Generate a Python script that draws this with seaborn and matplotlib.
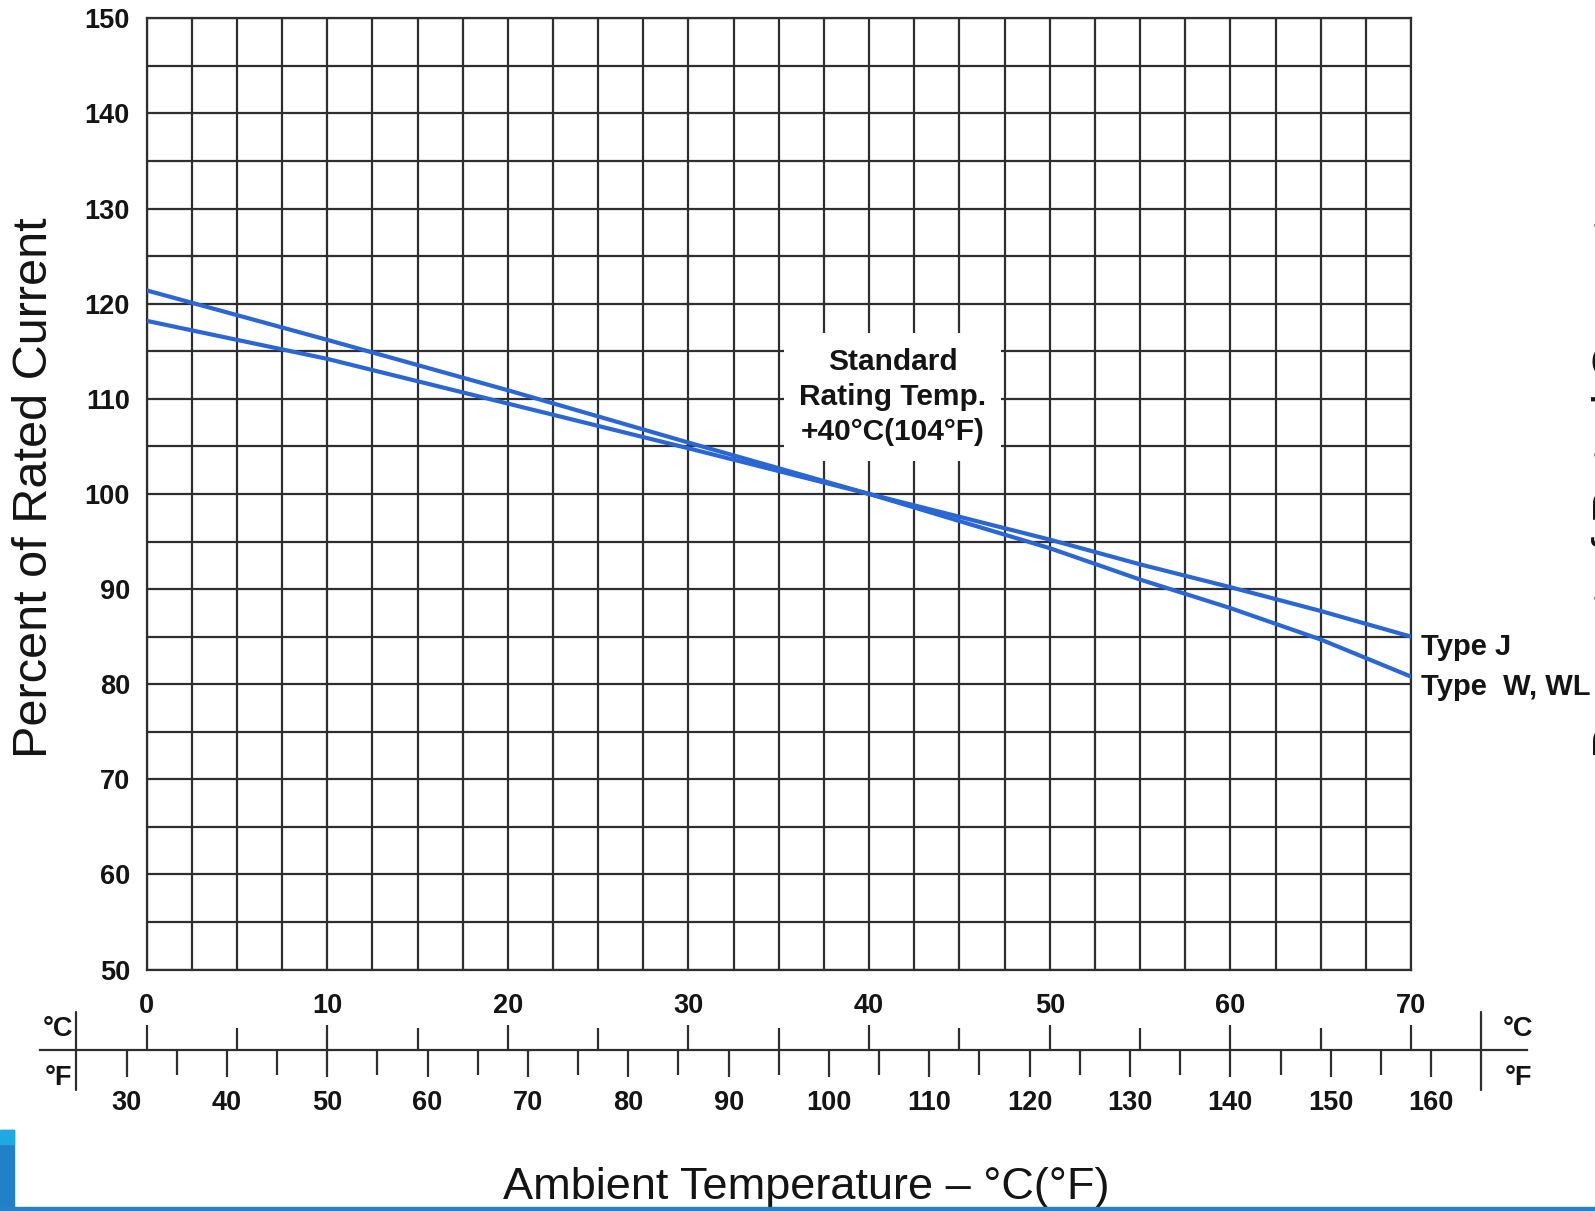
import matplotlib
matplotlib.use("Agg")
import matplotlib.pyplot as plt
import matplotlib.transforms as mtransforms
from matplotlib.patches import Rectangle
import numpy as np
import pandas as pd
import seaborn as sns

# ---------------- data ----------------
temp_c = [0, 10, 20, 30, 40, 50, 55, 60, 65, 70]
type_j = [118.2, 114.2, 109.5, 104.8, 100.0, 95.2, 92.6, 90.2, 87.7, 85.0]
type_w = [121.4, 116.2, 110.9, 105.4, 100.0, 94.3, 91.0, 88.0, 84.7, 80.8]
series_names = ["Type J", "Type  W, WL"]

y_ticks = list(range(50, 151, 10))
y_minor = list(range(55, 150, 10))
x_grid = list(np.arange(0, 70.1, 2.5))
c_ticks = list(range(0, 71, 10))
c_minor = list(range(5, 70, 10))
f_ticks = list(range(30, 161, 10))
f_minor = list(range(35, 160, 10))
f_bars = [25, 165]

annotation = "Standard\nRating Temp.\n+40°C(104°F)"
annotation_pos = (41.3, 110.2)
x_label = "Ambient Temperature – °C(°F)"
y_label = "Percent of Rated Current"

# ---------------- style ----------------
sns.set_theme(style="white")
plt.rcParams["font.family"] = ["Liberation Sans", "DejaVu Sans"]
plt.rcParams["font.weight"] = "bold"
ink = "#141414"
grid_c = "#2e2e2e"
line_c = "#2a66d4"
plt.rcParams["text.color"] = ink

W, H = 1595, 1211
fig = plt.figure(figsize=(W / 100, H / 100), dpi=100)
fig.patch.set_facecolor("white")


def fx(px):
    return px / W


def fy(py):
    return 1 - py / H


L, R, T, B = 146.6, 1411.0, 18.3, 969.6
ax = fig.add_axes([fx(L), fy(B), fx(R) - fx(L), fy(T) - fy(B)])

df = pd.DataFrame({
    "temp": temp_c * 2,
    "pct": type_j + type_w,
    "series": [series_names[0]] * len(temp_c) + [series_names[1]] * len(temp_c),
})
sns.lineplot(data=df, x="temp", y="pct", hue="series",
             palette={n: line_c for n in series_names},
             linewidth=3.0, legend=False, ax=ax, zorder=4)
ax.set_xlabel("")
ax.set_ylabel("")
ax.set_xlim(0, 70)
ax.set_ylim(50, 150)
ax.set_xticks(x_grid)
ax.set_xticklabels([])
ax.set_yticks(y_ticks)
ax.set_yticks(y_minor, minor=True)
ax.tick_params(axis="x", length=0)
ax.tick_params(axis="y", which="both", length=0, pad=12, labelsize=19.5,
               labelcolor=ink)
ax.set_axisbelow(True)
ax.grid(which="both", color=grid_c, linewidth=1.6)
for s in ax.spines.values():
    s.set_color(grid_c)
    s.set_linewidth(1.6)

# curve end labels
for name, vals in zip(series_names, [type_j, type_w]):
    ax.annotate(name, xy=(temp_c[-1], vals[-1]), xytext=(7.5, -7.5),
                textcoords="offset points", ha="left", va="center",
                fontsize=21, annotation_clip=False)

# standard rating annotation
ax.text(annotation_pos[0], annotation_pos[1], annotation, ha="center",
        va="center", multialignment="center", fontsize=21.5,
        linespacing=1.33, zorder=3,
        bbox=dict(facecolor="white", edgecolor="none",
                  boxstyle="square,pad=0.5"))

# ---------------- dual temperature scale ----------------
px_per_c = (R - L) / 70.0
x0, x1 = 40.0, 1527.0
cmin = (x0 - L) / px_per_c
cmax = (x1 - L) / px_per_c
axc = fig.add_axes([fx(x0), fy(1050), fx(x1) - fx(x0), 1e-5])
axc.set_xlim(cmin, cmax)
axc.set_ylim(0, 1)
axc.patch.set_alpha(0)
for s in ["left", "right", "bottom"]:
    axc.spines[s].set_visible(False)
axc.spines["top"].set_color(grid_c)
axc.spines["top"].set_linewidth(1.6)
axc.set_yticks([])
axc.xaxis.set_ticks_position("top")
axc.set_xticks(c_ticks)
axc.set_xticks(c_minor, minor=True)
axc.tick_params(axis="x", which="major", direction="out", length=18,
                width=1.6, color=grid_c, pad=4, labelsize=19.5,
                labelcolor=ink)
axc.tick_params(axis="x", which="minor", direction="out", length=16,
                width=1.6, color=grid_c)


def c2f(c):
    return np.asarray(c) * 9.0 / 5.0 + 32.0


def f2c(f):
    return (np.asarray(f) - 32.0) * 5.0 / 9.0


axf = axc.secondary_xaxis("bottom", functions=(c2f, f2c))
axf.spines["bottom"].set_visible(False)
axf.set_xticks(f_ticks)
axf.set_xticks(f_minor, minor=True)
axf.tick_params(axis="x", which="major", direction="out", length=19.5,
                width=1.6, color=grid_c, pad=9, labelsize=19.5,
                labelcolor=ink)
axf.tick_params(axis="x", which="minor", direction="out", length=18,
                width=1.6, color=grid_c)

trans = mtransforms.blended_transform_factory(axc.transData, fig.transFigure)
for fb in f_bars:
    axc.plot([f2c(fb)] * 2, [fy(1012), fy(1090)], transform=trans,
             color=grid_c, lw=1.6, clip_on=False)

for xp, lab_c, lab_f in [(58, "°C", "°F"), (1518, "°C", "°F")]:
    fig.text(fx(xp), fy(1029), lab_c, ha="center", va="center", fontsize=19.5)
    fig.text(fx(xp), fy(1078), lab_f, ha="center", va="center", fontsize=19.5)

# ---------------- axis titles ----------------
fig.text(fx(806), fy(1199), x_label, ha="center", va="baseline",
         fontsize=32.5, fontweight="normal")
fig.text(fx(47), fy(488), y_label, rotation=90, rotation_mode="anchor",
         ha="center", va="baseline", fontsize=35, fontweight="normal")
# neighbouring chart's title, almost entirely outside the picture
fig.text(fx(1627), fy(488), y_label, rotation=90, rotation_mode="anchor",
         ha="center", va="baseline", fontsize=35, fontweight="normal")

# ---------------- page decorations ----------------
fig.patches.append(Rectangle((0, fy(1211)), fx(14), fy(1130) - fy(1211),
                             transform=fig.transFigure, color="#2280c8",
                             zorder=5))
fig.patches.append(Rectangle((0, fy(1144)), fx(14), fy(1130) - fy(1144),
                             transform=fig.transFigure, color="#1ea9e1",
                             zorder=5))
fig.patches.append(Rectangle((0, fy(1211)), 1, fy(1207) - fy(1211),
                             transform=fig.transFigure, color="#2a80c6",
                             zorder=5))

fig.savefig("out.png", dpi=100, facecolor="white")
